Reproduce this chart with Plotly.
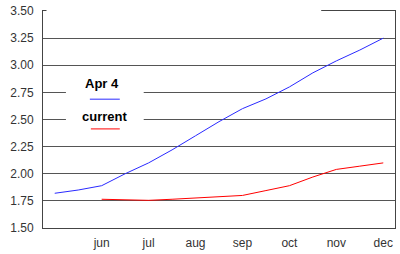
import numpy as np
import plotly.graph_objects as go

# ---- data (half-month steps, starting at may) ----
months = ["may", "jun", "jul", "aug", "sep", "oct", "nov", "dec"]
tick_labels = ["", "jun", "jul", "aug", "sep", "oct", "nov", "dec"]
apr4 = [1.82, 1.85, 1.89, 2.00, 2.10, 2.22, 2.35, 2.48, 2.60, 2.69, 2.80, 2.93, 3.04, 3.14, 3.25]
current = [1.765, 1.76, 1.755, 1.765, 1.775, 1.79, 1.80, 1.845, 1.89, 1.97, 2.04, 2.07, 2.10]
current_start_month = "jun"
y_ticks = [1.50, 1.75, 2.00, 2.25, 2.50, 2.75, 3.00, 3.25, 3.50]

x_apr4 = np.arange(len(apr4)) * 0.5
x_cur = months.index(current_start_month) + np.arange(len(current)) * 0.5

FONT = "Liberation Sans, Arial, sans-serif"

fig = go.Figure()
fig.add_trace(go.Scatter(x=x_apr4, y=apr4, mode="lines", name="Apr 4",
                         line=dict(color="#2a2aff", width=1)))
fig.add_trace(go.Scatter(x=x_cur, y=current, mode="lines", name="current",
                         line=dict(color="#ff0000", width=1)))

W, H = 400, 254
ml, mr, mt, mb = 43, 4, 9, 26
pw, ph = W - ml - mr, H - mt - mb

def px(x):
    return (x - ml) / pw

def py(y):
    return (H - mb - y) / ph

shapes = [
    # cover part of the top border / 3.50 gridline
    dict(type="rect", xref="paper", yref="paper", x0=px(46.5), x1=px(322), y0=py(11), y1=py(6),
         fillcolor="white", line=dict(width=0), layer="above"),
    # legend box background
    dict(type="rect", xref="paper", yref="paper", x0=px(66), x1=px(144), y0=py(138), y1=py(70),
         fillcolor="white", line=dict(width=0), layer="above"),
    dict(type="line", xref="paper", yref="paper", x0=px(90), x1=px(120), y0=py(98), y1=py(98),
         line=dict(color="#2a2aff", width=1), layer="above"),
    dict(type="line", xref="paper", yref="paper", x0=px(91), x1=px(120), y0=py(128), y1=py(128),
         line=dict(color="#ff0000", width=1), layer="above"),
]
annotations = [
    dict(xref="paper", yref="paper", x=px(102), y=py(82), text="<b>Apr 4</b>", showarrow=False,
         font=dict(family=FONT, size=13, color="#000"), xanchor="center", yanchor="middle"),
    dict(xref="paper", yref="paper", x=px(105), y=py(115), text="<b>current</b>", showarrow=False,
         font=dict(family=FONT, size=13, color="#000"), xanchor="center", yanchor="middle"),
]

fig.update_layout(
    width=W, height=H,
    margin=dict(l=ml, r=mr, t=mt, b=mb, pad=0),
    paper_bgcolor="white", plot_bgcolor="white",
    showlegend=False,
    shapes=shapes, annotations=annotations,
    font=dict(family=FONT, size=12, color="#333"),
    xaxis=dict(range=[-0.25, 7.25], tickmode="array", tickvals=list(range(len(months))),
               ticktext=tick_labels, showgrid=False, zeroline=False,
               showline=True, linecolor="#444", linewidth=1, mirror=True,
               ticks="", ticklabelstandoff=4, tickfont=dict(size=12, color="#333")),
    yaxis=dict(range=[1.5, 3.5], tickmode="array", tickvals=y_ticks,
               ticktext=[f"{v:.2f}" for v in y_ticks],
               showgrid=True, gridcolor="#555", gridwidth=1, zeroline=False,
               showline=True, linecolor="#444", linewidth=1, mirror=True,
               ticks="", ticklabelstandoff=6, tickfont=dict(size=12, color="#333")),
)

fig.write_html("out.html")
